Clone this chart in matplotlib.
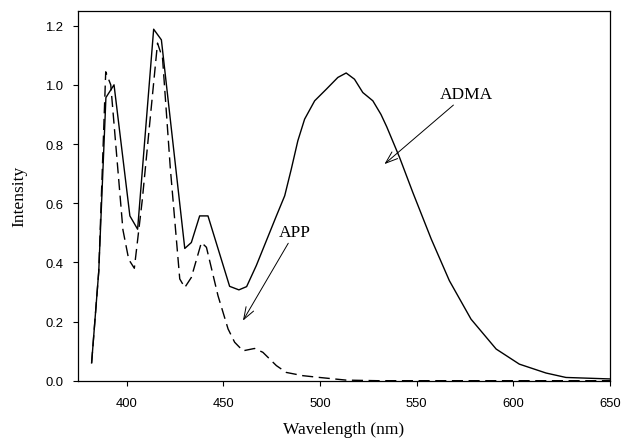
import matplotlib
matplotlib.use("Agg")
from matplotlib import pyplot as plt

# spectra
adma_nm = [381.8, 385.5, 389.2, 393.4, 401.6, 405.6, 413.9, 417.9, 430, 433.4, 437.7, 442,
           453.2, 458, 462, 467, 472.2, 477.4, 481.7, 485.1, 488.5, 492, 497.2, 503.2,
           509.2, 513.5, 517.8, 522.1, 527.3, 531.5, 534.5, 541.1, 548, 557.5, 566.9,
           578.1, 591.1, 603.1, 616.9, 627.2, 650]
adma_int = [0.06, 0.37, 0.957, 1.0, 0.557, 0.512, 1.188, 1.152, 0.447, 0.467, 0.557, 0.557,
            0.319, 0.307, 0.318, 0.389, 0.473, 0.557, 0.625, 0.715, 0.811, 0.884, 0.946, 0.985,
            1.025, 1.04, 1.019, 0.974, 0.946, 0.90, 0.858, 0.755, 0.636, 0.479, 0.338,
            0.208, 0.107, 0.056, 0.026, 0.011, 0.006]

app_nm = [381.8, 385.5, 389.1, 391.7, 398, 401, 403.9, 408, 415.9, 418.5, 422.5, 427.4,
          430, 433.4, 438.6, 441.2, 447.2, 452.4, 455.8, 460.1, 466.1, 470.4, 477.4,
          482.5, 491.1, 499.7, 513.5, 530, 650]
app_int = [0.06, 0.37, 1.044, 1.0, 0.51, 0.41, 0.38, 0.61, 1.141, 1.09, 0.72, 0.344,
           0.315, 0.349, 0.467, 0.451, 0.287, 0.175, 0.13, 0.101, 0.109, 0.096, 0.051,
           0.028, 0.017, 0.011, 0.002, 0.0, 0.0]

x_ticks = [400, 450, 500, 550, 600, 650]
y_ticks = [0.0, 0.2, 0.4, 0.6, 0.8, 1.0, 1.2]

fig = plt.figure(figsize=(6.25, 4.39), dpi=100)
ax = fig.add_axes([0.124, 0.1305, 0.852, 0.8425])

ax.plot(adma_nm, adma_int, color="black", lw=1.0)
ax.plot(app_nm, app_int, color="black", lw=1.0, linestyle=(0, (8, 4)))

ax.set_xlim(374.5, 650)
ax.set_ylim(0, 1.25)
ax.set_xticks(x_ticks)
ax.set_yticks(y_ticks)
ax.set_yticklabels(["{:.1f}".format(v) for v in y_ticks])
ax.tick_params(direction="out", length=3.6, width=0.8, labelsize=9.4, pad=6.5)
ax.tick_params(axis="x", pad=8)
for lab in ax.get_xticklabels() + ax.get_yticklabels():
    lab.set_family("Liberation Sans")

serif = "Liberation Serif"
ax.set_xlabel("Wavelength (nm)", family=serif, fontsize=12.5, labelpad=9)
ax.set_ylabel("Intensity", family=serif, fontsize=12.5, labelpad=13)

arrow = dict(arrowstyle="->,head_length=0.7,head_width=0.25", color="black",
             lw=0.7, shrinkA=0, shrinkB=0)
ax.annotate("ADMA", xy=(533.3, 0.732), xytext=(575.5, 0.968), family=serif,
            fontsize=12.5, ha="center", va="center",
            arrowprops=arrow)
ax.annotate("APP", xy=(460.1, 0.203), xytext=(486.8, 0.501), family=serif,
            fontsize=12.5, ha="center", va="center",
            arrowprops=arrow)

for s in ax.spines.values():
    s.set_linewidth(0.9)

plt.savefig("out.png", dpi=100)
